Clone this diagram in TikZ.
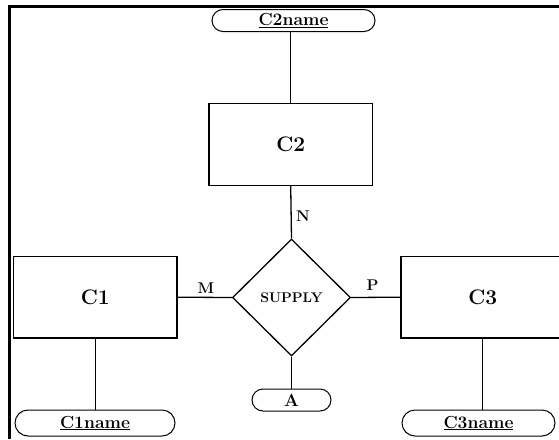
\documentclass[tikz,border=0pt]{standalone}
\usetikzlibrary{shapes.geometric}
\begin{document}
\begin{tikzpicture}[x=1pt,y=-1pt,
  ent/.style={draw, line width=1.3pt, minimum width=163.5pt, minimum height=81.5pt, inner sep=0pt, font=\fontsize{21}{24}\selectfont\bfseries},
  attr/.style={draw, line width=1pt, rounded corners=11pt, inner sep=0pt, minimum height=22pt, font=\fontsize{17.5}{20}\selectfont\bfseries},
  rel/.style={draw, line width=1.3pt, diamond, inner sep=0pt, minimum width=118pt, minimum height=117pt, font=\fontsize{14}{16}\selectfont\bfseries},
  conn/.style={line width=1.3pt},
  card/.style={font=\fontsize{15.5}{18}\selectfont\bfseries, inner sep=0pt}]
\useasboundingbox (0,0) rectangle (559,439);
\clip (0,0) rectangle (559,439);
\draw[line width=2.6pt] (9.5,439) -- (9.5,6.5) -- (570,6.5);
\node[attr, minimum width=163pt] (c2name) at (293.5,20.5) {\underline{C2name}};
\node[ent] (c2) at (290.7,144.5) {C2};
\node[rel] (sup) at (291.5,297.5) {SUPPLY};
\node[ent] (c1) at (95.2,297.2) {C1};
\node[ent] (c3) at (482.7,297.2) {C3};
\node[attr, minimum width=160pt, minimum height=26pt, rounded corners=13pt] (c1name) at (95,423) {\underline{C1name}};
\node[attr, minimum width=153pt, minimum height=26pt, rounded corners=13pt] (c3name) at (478.5,423) {\underline{C3name}};
\node[attr, minimum width=79pt] (a) at (291.5,400) {A};
\draw[conn] (c2.north |- c2name.south) -- (c2.north);
\draw[conn] (c2.south) -- (sup.north);
\draw[conn] (c1.east) -- (sup.west);
\draw[conn] (sup.east) -- (c3.west);
\draw[conn] (sup.south) -- (a.north);
\draw[conn] (c1.south) -- (c1.south |- c1name.north);
\draw[conn] (c3.south) -- (c3.south |- c3name.north);
\node[card] (n) at (303,216.5) {N};
\node[card] (m) at (206,288) {M};
\node[card] (p) at (372.5,285) {P};
\end{tikzpicture}
\end{document}
